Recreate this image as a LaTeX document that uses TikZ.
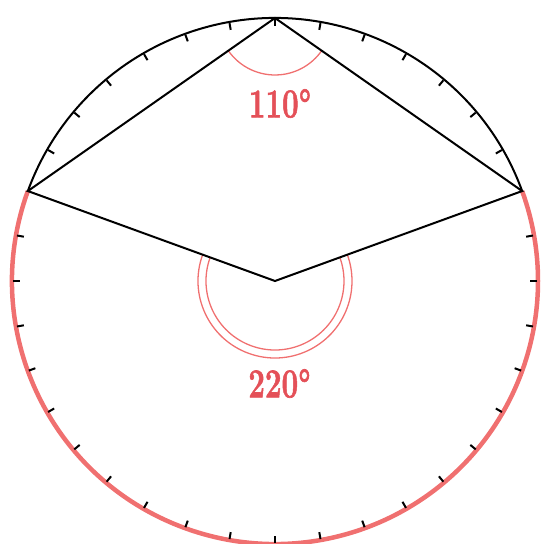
\documentclass[tikz,border=0pt]{standalone}
\usepackage{fontspec}
\usepackage{graphicx}
\newfontfamily\lblfont[FakeBold=1.6]{Latin Modern Roman}
\usetikzlibrary{calc}
\definecolor{arcred}{RGB}{240,112,112}
\definecolor{txtred}{RGB}{228,80,88}
\begin{document}
\begin{tikzpicture}[x=1pt,y=1pt,
  blackline/.style={line width=2pt, black},
  tickmark/.style={line width=2pt, black},
  anglemark/.style={line width=1.3pt, arcred},
  anglelabel/.style={text=txtred, inner sep=0pt, font=\fontsize{41}{46}\lblfont\bfseries}]
\useasboundingbox (0,0) rectangle (541,544);
\def\R{263}
\coordinate (O) at (275,263);
\coordinate (A) at ($(O)+(90:\R)$);
\coordinate (B) at ($(O)+(160:\R)$);
\coordinate (C) at ($(O)+(20:\R)$);
% circle arcs
\draw[blackline] (C) arc (20:160:\R);
\draw[line width=4.5pt, arcred] (B) arc (160:380:\R);
% ticks
\foreach \a in {30,40,...,150,170,180,...,370}
  \draw[tickmark] ($(O)+(\a:\R-1)$) -- ($(O)+(\a:\R-8)$);
% angle marks
\draw[anglemark] ($(A)+(215:57)$) arc (215:325:57);
\draw[anglemark] ($(O)+(160:69)$) arc (160:380:69);
\draw[anglemark] ($(O)+(160:77)$) arc (160:380:77);
% polygon
\draw[blackline, line join=miter] (A) -- (B) -- (O) -- (C) -- cycle;
% labels
\node[anglelabel] (l1) at (280,440.5) {\scalebox{0.72}[1]{110\textdegree}};
\node[anglelabel] (l2) at (279.5,160.5) {\scalebox{0.72}[1]{220\textdegree}};
\end{tikzpicture}
\end{document}
